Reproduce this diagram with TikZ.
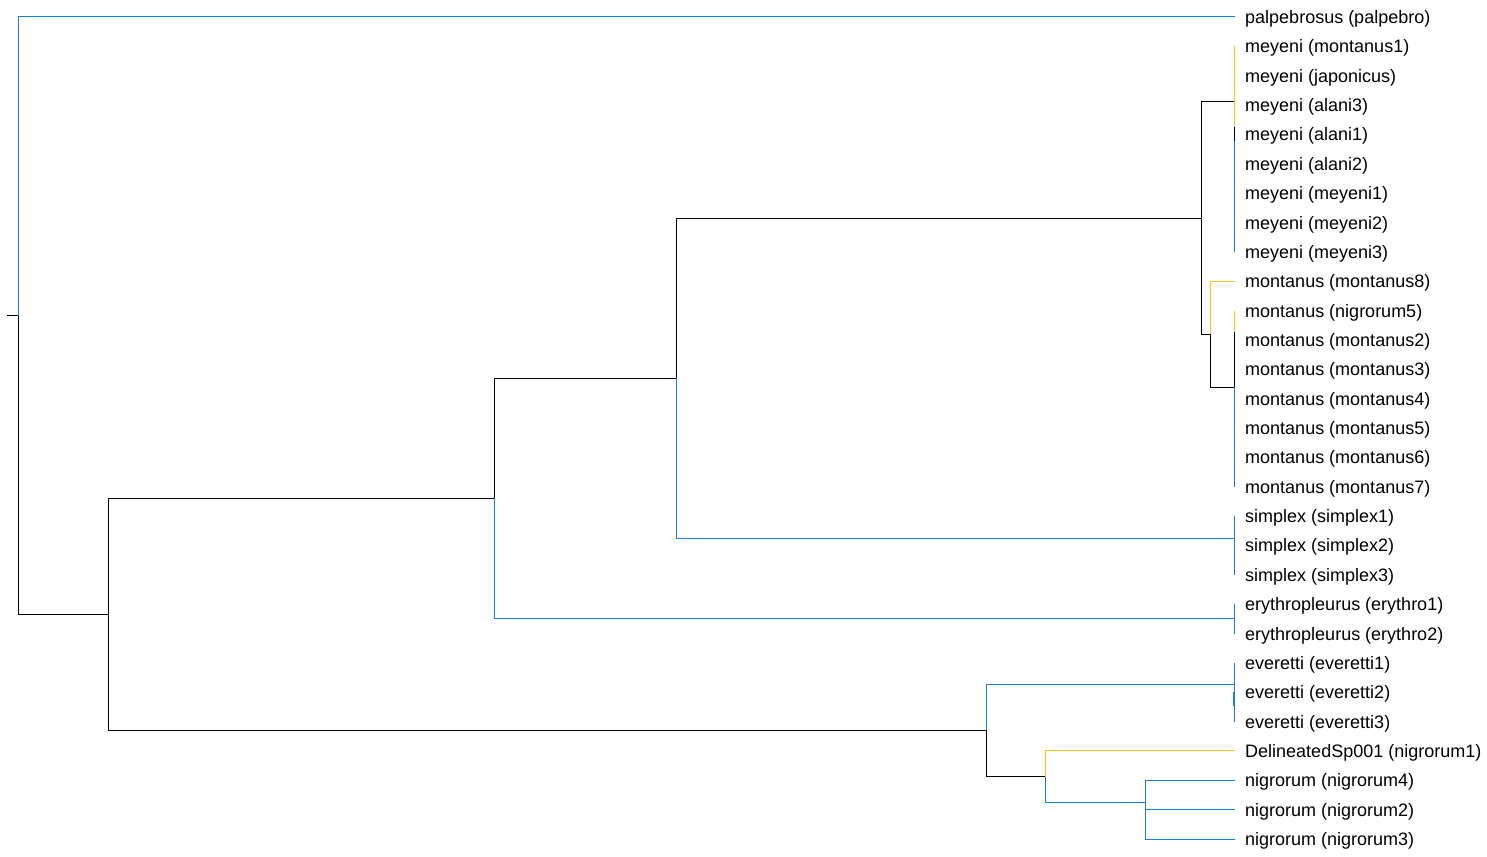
\documentclass[tikz,border=0pt]{standalone}
\usepackage{fontspec}
\setmainfont{Liberation Sans}
\definecolor{treeblue}{RGB}{24,128,220}
\definecolor{treeyellow}{RGB}{250,196,20}
\begin{document}
\begin{tikzpicture}[x=1pt,y=-1pt,
  blk/.style={draw=black,line width=1pt},
  blu/.style={draw=treeblue,line width=1pt},
  yel/.style={draw=treeyellow,line width=1pt},
  leaflabel/.style={anchor=west,inner sep=0pt,font=\fontsize{18}{20}\selectfont,text height=13pt,text depth=4pt}]
\useasboundingbox (0,0) rectangle (1487,856);
% leaves
\foreach \i/\t in {0/palpebrosus (palpebro),1/meyeni (montanus1),2/meyeni (japonicus),3/meyeni (alani3),4/meyeni (alani1),5/meyeni (alani2),6/meyeni (meyeni1),7/meyeni (meyeni2),8/meyeni (meyeni3),9/montanus (montanus8),10/montanus (nigrorum5),11/montanus (montanus2),12/montanus (montanus3),13/montanus (montanus4),14/montanus (montanus5),15/montanus (montanus6),16/montanus (montanus7),17/simplex (simplex1),18/simplex (simplex2),19/simplex (simplex3),20/erythropleurus (erythro1),21/erythropleurus (erythro2),22/everetti (everetti1),23/everetti (everetti2),24/everetti (everetti3),25/DelineatedSp001 (nigrorum1),26/nigrorum (nigrorum4),27/nigrorum (nigrorum2),28/nigrorum (nigrorum3)}{
  \coordinate (t\i) at (1234.5,{17+29.357*\i});
  \node[leaflabel] (l\i) at (1245,{19+29.357*\i}) {\t};
}
% internal nodes
\coordinate (r0) at (7,315.5);
\coordinate (r) at (18,315.5);
\coordinate (nB) at (108,614);
\coordinate (nC) at (494,498);
\coordinate (nD) at (676,378);
\coordinate (nE) at (1201,218);
\coordinate (nF) at (1210,334);
\coordinate (nG) at (986,730);
\coordinate (nH) at (1045,776.7);
\coordinate (nI) at (1145,802);
\coordinate (m) at (1234.5,102);
\coordinate (m1) at (1234.5,127);
\coordinate (m2) at (1234.5,141);
\coordinate (k) at (1234.5,387);
\coordinate (k1) at (1234.5,332);
\coordinate (s) at (1234.5,538);
\coordinate (e) at (1234.5,618);
\coordinate (v) at (1234.5,684);
\coordinate (v1) at (1233.5,692);
\coordinate (v2) at (1233.5,706);
% root
\draw[blk] (r0) -- (r);
\draw[blu] (r) |- (t0);
\draw[blk] (r) |- (nB);
\draw[blk] (nB) |- (nC);
\draw[blk] (nB) |- (nG);
% erythro
\draw[blu] (nC) |- (e);
\draw[blu] (t20) -- (t21);
\draw[blk] (nC) |- (nD);
% simplex
\draw[blu] (nD) |- (s);
\draw[blu] (t17) -- (t19);
\draw[blk] (nD) |- (nE);
% meyeni
\draw[blk] (nE) |- (m);
\draw[yel] (t1) -- (m1);
\draw[blk] (m1) -- (m2);
\draw[blu] (m2) -- (t8);
% montanus
\draw[blk] (nE) |- (nF);
\draw[yel] (nF) |- (t9);
\draw[blk] (nF) |- (k);
\draw[yel] (t10) -- (k1);
\draw[blk] (k1) -- (k);
\draw[blu] (k) -- (t16);
% everetti
\draw[blu] (nG) |- (v);
\draw[blu] (t22) -- (t24);
\draw[blu,line width=1.5pt] (v1) -- (v2);
\draw[blk] (nG) |- (nH);
% nigrorum
\draw[yel] (nH) |- (t25);
\draw[blu] (nH) |- (nI);
\draw[blu] (nI) |- (t26);
\draw[blu] (nI) |- (t27);
\draw[blu] (nI) |- (t28);
\end{tikzpicture}
\end{document}
